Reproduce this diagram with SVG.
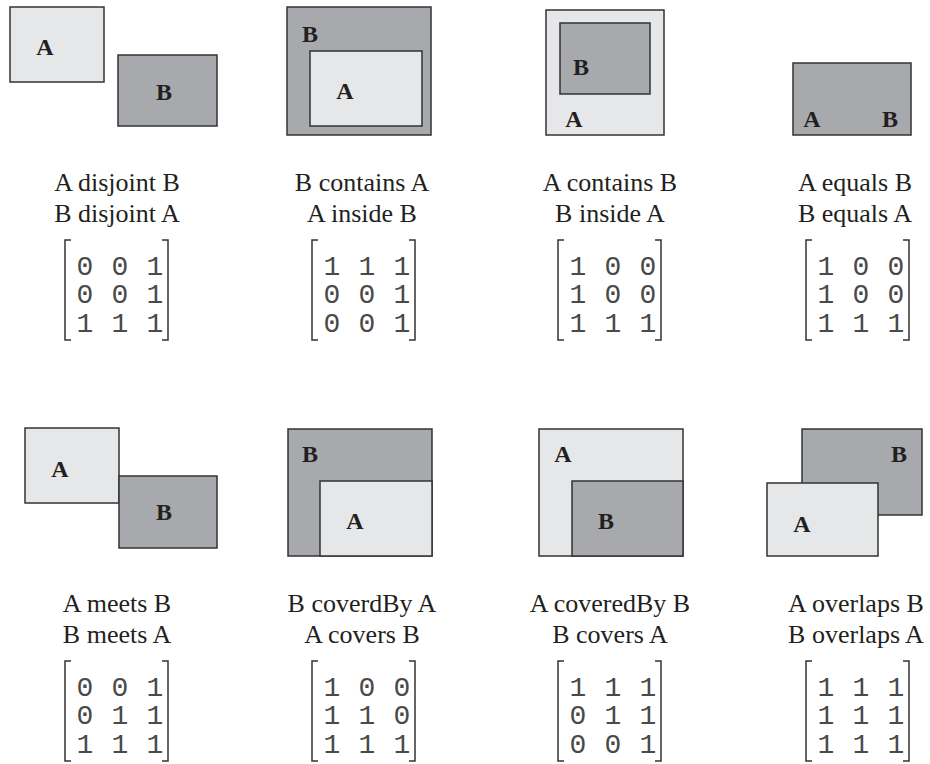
<svg xmlns="http://www.w3.org/2000/svg" width="930" height="764" viewBox="0 0 930 764">
<style>
.l{fill:#e6e7e8;stroke:#333;stroke-width:1.5}
.d{fill:#a7a9ac;stroke:#333;stroke-width:1.5}
.lb{font-family:"Liberation Serif","Times New Roman",serif;font-weight:bold;font-size:24px;fill:#231f20;text-anchor:middle}
.cap{font-family:"Liberation Serif","Times New Roman",serif;font-size:26px;fill:#231f20;text-anchor:middle}
.m{font-family:"Liberation Mono","Courier New",monospace;font-size:28px;fill:#4a4a4a;text-anchor:middle}
.br{fill:none;stroke:#333;stroke-width:1.5}
</style>
<rect width="930" height="764" fill="#fff"/>
<defs>
<g id="brk"><path class="br" d="M6,0 H0 V100 H6 M97,0 H103 V100 H97"/></g>
</defs>

<g id="disjoint">
<rect class="l" x="10" y="7" width="94" height="75"/>
<rect class="d" x="118" y="55" width="99" height="71"/>
<text class="lb" x="45" y="55">A</text>
<text class="lb" x="164" y="100">B</text>
<text class="cap" x="117" y="191">A disjoint B</text>
<text class="cap" x="117" y="222">B disjoint A</text>
<use href="#brk" x="65" y="240"/>
<g class="m"><text x="85" y="275">0</text><text x="120" y="275">0</text><text x="155" y="275">1</text>
<text x="85" y="303">0</text><text x="120" y="303">0</text><text x="155" y="303">1</text>
<text x="85" y="332">1</text><text x="120" y="332">1</text><text x="155" y="332">1</text></g>
</g>

<g id="contains">
<rect class="d" x="287" y="7" width="144" height="128"/>
<rect class="l" x="310" y="51" width="112" height="75"/>
<text class="lb" x="310" y="42">B</text>
<text class="lb" x="345" y="99">A</text>
<text class="cap" x="362" y="191">B contains A</text>
<text class="cap" x="362" y="222">A inside B</text>
<use href="#brk" x="312" y="240"/>
<g class="m"><text x="332" y="275">1</text><text x="367" y="275">1</text><text x="402" y="275">1</text>
<text x="332" y="303">0</text><text x="367" y="303">0</text><text x="402" y="303">1</text>
<text x="332" y="332">0</text><text x="367" y="332">0</text><text x="402" y="332">1</text></g>
</g>

<g id="inside">
<rect class="l" x="546" y="10" width="118" height="125"/>
<rect class="d" x="560" y="23" width="90" height="71"/>
<text class="lb" x="581" y="75">B</text>
<text class="lb" x="574" y="127">A</text>
<text class="cap" x="610" y="191">A contains B</text>
<text class="cap" x="610" y="222">B inside A</text>
<use href="#brk" x="558" y="240"/>
<g class="m"><text x="578" y="275">1</text><text x="613" y="275">0</text><text x="648" y="275">0</text>
<text x="578" y="303">1</text><text x="613" y="303">0</text><text x="648" y="303">0</text>
<text x="578" y="332">1</text><text x="613" y="332">1</text><text x="648" y="332">1</text></g>
</g>

<g id="equals">
<rect class="d" x="793" y="63" width="118" height="72"/>
<text class="lb" x="812" y="127">A</text>
<text class="lb" x="890" y="127">B</text>
<text class="cap" x="855" y="191">A equals B</text>
<text class="cap" x="855" y="222">B equals A</text>
<use href="#brk" x="806" y="240"/>
<g class="m"><text x="826" y="275">1</text><text x="861" y="275">0</text><text x="896" y="275">0</text>
<text x="826" y="303">1</text><text x="861" y="303">0</text><text x="896" y="303">0</text>
<text x="826" y="332">1</text><text x="861" y="332">1</text><text x="896" y="332">1</text></g>
</g>

<g id="meets">
<rect class="l" x="25" y="428" width="94" height="75"/>
<rect class="d" x="119" y="476" width="98" height="72"/>
<text class="lb" x="60" y="477">A</text>
<text class="lb" x="164" y="520">B</text>
<text class="cap" x="117" y="612">A meets B</text>
<text class="cap" x="117" y="643">B meets A</text>
<use href="#brk" x="65" y="661"/>
<g class="m"><text x="85" y="696">0</text><text x="120" y="696">0</text><text x="155" y="696">1</text>
<text x="85" y="724">0</text><text x="120" y="724">1</text><text x="155" y="724">1</text>
<text x="85" y="753">1</text><text x="120" y="753">1</text><text x="155" y="753">1</text></g>
</g>

<g id="coveredBy">
<rect class="d" x="288" y="429" width="144" height="127"/>
<rect class="l" x="320" y="481" width="112" height="75"/>
<text class="lb" x="310" y="462">B</text>
<text class="lb" x="355" y="529">A</text>
<text class="cap" x="362" y="612">B coverdBy A</text>
<text class="cap" x="362" y="643">A covers B</text>
<use href="#brk" x="312" y="661"/>
<g class="m"><text x="332" y="696">1</text><text x="367" y="696">0</text><text x="402" y="696">0</text>
<text x="332" y="724">1</text><text x="367" y="724">1</text><text x="402" y="724">0</text>
<text x="332" y="753">1</text><text x="367" y="753">1</text><text x="402" y="753">1</text></g>
</g>

<g id="covers">
<rect class="l" x="539" y="429" width="144" height="127"/>
<rect class="d" x="572" y="481" width="111" height="75"/>
<text class="lb" x="563" y="462">A</text>
<text class="lb" x="606" y="529">B</text>
<text class="cap" x="610" y="612">A coveredBy B</text>
<text class="cap" x="610" y="643">B covers A</text>
<use href="#brk" x="558" y="661"/>
<g class="m"><text x="578" y="696">1</text><text x="613" y="696">1</text><text x="648" y="696">1</text>
<text x="578" y="724">0</text><text x="613" y="724">1</text><text x="648" y="724">1</text>
<text x="578" y="753">0</text><text x="613" y="753">0</text><text x="648" y="753">1</text></g>
</g>

<g id="overlaps">
<rect class="d" x="802" y="429" width="120" height="86"/>
<rect class="l" x="767" y="483" width="111" height="73"/>
<text class="lb" x="899" y="462">B</text>
<text class="lb" x="802" y="532">A</text>
<text class="cap" x="856" y="612">A overlaps B</text>
<text class="cap" x="856" y="643">B overlaps A</text>
<use href="#brk" x="806" y="661"/>
<g class="m"><text x="826" y="696">1</text><text x="861" y="696">1</text><text x="896" y="696">1</text>
<text x="826" y="724">1</text><text x="861" y="724">1</text><text x="896" y="724">1</text>
<text x="826" y="753">1</text><text x="861" y="753">1</text><text x="896" y="753">1</text></g>
</g>
</svg>
